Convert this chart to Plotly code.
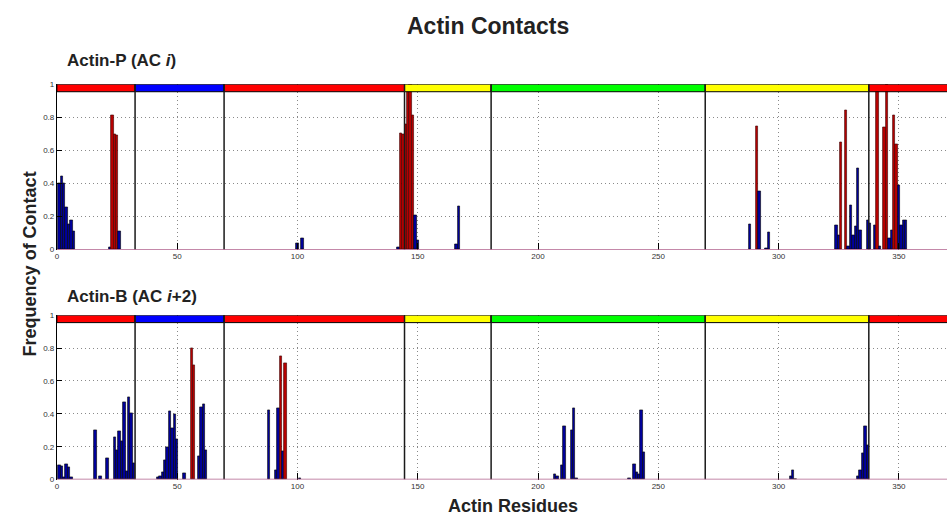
import plotly.graph_objects as go

# Contact frequencies per actin residue
top_res = [1, 2, 3, 4, 5, 6, 7,
           22, 23, 24, 25, 26,
           100, 102,
           142, 143, 144, 145, 146, 147, 148, 149, 150,
           166, 167,
           288, 291, 292, 295, 296,
           324, 325, 326, 328, 329, 330, 331, 332, 333, 334, 337, 338,
           340, 341, 342, 344, 345, 346, 347, 348, 349, 350, 351, 352, 353]
top_val = [0.40, 0.445, 0.40, 0.255, 0.155, 0.175, 0.11,
           0.015, 0.81, 0.70, 0.69, 0.11,
           0.04, 0.07,
           0.015, 0.705, 0.70, 0.76, 0.955, 1.0, 0.81, 0.21, 0.055,
           0.03, 0.26,
           0.155, 0.745, 0.355, 0.01, 0.105,
           0.15, 0.09, 0.65, 0.84, 0.02, 0.27, 0.09, 0.14, 0.495, 0.115, 0.18, 0.16,
           0.15, 0.98, 0.02, 0.74, 1.0, 0.07, 0.12, 0.81, 0.64, 0.39, 0.15, 0.18, 0.175]

bot_res = [1, 2, 3, 4, 5, 6,
           16, 18, 21, 24, 25, 26, 27, 28, 29, 30, 31, 32,
           42, 43, 44, 45, 46, 47, 48, 49, 50, 53, 56, 57, 59, 60, 61, 62,
           88, 91, 92, 93, 94, 95, 101,
           207, 208, 210, 211, 214, 215, 216,
           238, 240, 241, 242, 243, 244,
           305, 306, 307,
           333, 334, 335, 336, 337]
bot_val = [0.085, 0.08, 0.015, 0.095, 0.075, 0.012,
           0.30, 0.02, 0.13, 0.255, 0.18, 0.295, 0.235, 0.47, 0.05, 0.50, 0.405, 0.10,
           0.015, 0.02, 0.045, 0.12, 0.20, 0.415, 0.31, 0.40, 0.245, 0.04, 0.80, 0.695, 0.14, 0.44, 0.46, 0.18,
           0.42, 0.055, 0.435, 0.75, 0.17, 0.71, 0.01,
           0.03, 0.018, 0.09, 0.325, 0.30, 0.435, 0.01,
           0.008, 0.095, 0.045, 0.03, 0.42, 0.165,
           0.02, 0.055, 0.005,
           0.02, 0.055, 0.16, 0.325, 0.21]

# Actin subdomains (SD1 red, SD2 blue, SD3 yellow, SD4 green)
seg_start = [0, 32.5, 69.5, 144.5, 180.5, 269.5, 337.5]
seg_end = [32.5, 69.5, 144.5, 180.5, 269.5, 337.5, 375.5]
seg_color = ["#ff0000", "#0000ff", "#ff0000", "#ffff00", "#00ff00", "#ffff00", "#ff0000"]

HIGH = 0.6  # frequencies at or above this are drawn in red
x_ticks = [0, 50, 100, 150, 200, 250, 300, 350]
y_ticks = [0, 0.2, 0.4, 0.6, 0.8, 1]
y_ticklabels = ["0", "0.2", "0.4", "0.6", "0.8", "1"]

W, H = 947, 520
x_dom = [55 / W, 1.0]
top_dom = [1 - 250 / H, 1 - 81.7 / H]
bot_dom = [1 - 484 / H, 1 - 316.7 / H]


def bar_colors(vals):
    fill = ["#b80000" if v >= HIGH else "#00009c" for v in vals]
    edge = ["#3a0000" if v >= HIGH else "#000000" for v in vals]
    return fill, edge


fig = go.Figure()
for res, val, xa, ya in [(top_res, top_val, "x", "y"), (bot_res, bot_val, "x2", "y2")]:
    fill, edge = bar_colors(val)
    fig.add_trace(go.Bar(x=res, y=val, width=1, xaxis=xa, yaxis=ya,
                         marker=dict(color=fill, line=dict(color=edge, width=0.6)),
                         showlegend=False))

shapes = []
for xr, yr in [("x", "y"), ("x2", "y2")]:
    # subdomain bar along the top
    for s, e, c in zip(seg_start, seg_end, seg_color):
        shapes.append(dict(type="rect", xref=xr, yref=yr, x0=s, x1=e, y0=0.955, y1=1.0,
                           fillcolor=c, line=dict(color="#000000", width=1)))
    # subdomain boundaries
    for b in seg_start[1:]:
        shapes.append(dict(type="line", xref=xr, yref=yr, x0=b, x1=b, y0=0, y1=1.0,
                           line=dict(color="#1a1a1a", width=1.5)))
    # baseline
    shapes.append(dict(type="line", xref=xr, yref=yr, x0=0, x1=375.5, y0=0, y1=0,
                       line=dict(color="#b0608c", width=1.5)))

tick_font = dict(family="Liberation Sans, Arial, sans-serif", size=8, color="#333333")
grid = dict(showgrid=True, gridcolor="#8a8a8a", griddash="1px,3px", gridwidth=1)
xcommon = dict(range=[0, 370], tickvals=x_ticks, ticks="inside", ticklen=7, tickcolor="#000",
               zeroline=False, showline=False, tickfont=tick_font, domain=x_dom, **grid)
ycommon = dict(range=[0, 1.0], tickvals=y_ticks, ticktext=y_ticklabels, ticks="inside",
               ticklen=5, tickcolor="#000", zeroline=False, showline=True,
               linecolor="#000", linewidth=1, tickfont=tick_font, **grid)

bold = "Liberation Sans, Arial, sans-serif"
ink = "#222222"


def label(text, px, py, size, **kw):
    return dict(text=text, x=px / W, y=1 - py / H, xref="paper", yref="paper",
                yanchor="middle", showarrow=False,
                font=dict(family=bold, size=size, color=ink), **kw)


annotations = [
    label("<b>Actin Contacts</b>", 487, 22, 23),
    label("<b>Actin-P (AC <i>i</i>)</b>", 63, 58, 17, xanchor="left"),
    label("<b>Actin-B (AC <i>i</i>+2)</b>", 63, 298, 17, xanchor="left"),
    label("<b>Frequency of Contact</b>", 16, 264, 18, textangle=-90),
    label("<b>Actin Residues</b>", 512, 511, 18),
]

fig.update_layout(
    width=W, height=H, margin=dict(l=0, r=0, t=0, b=0),
    paper_bgcolor="#ffffff", plot_bgcolor="#ffffff",
    barmode="overlay", bargap=0,
    xaxis=dict(**xcommon, anchor="y"),
    yaxis=dict(**ycommon, domain=top_dom, anchor="x"),
    xaxis2=dict(**xcommon, anchor="y2"),
    yaxis2=dict(**ycommon, domain=bot_dom, anchor="x2"),
    shapes=shapes, annotations=annotations,
)

fig.write_html("out.html")
